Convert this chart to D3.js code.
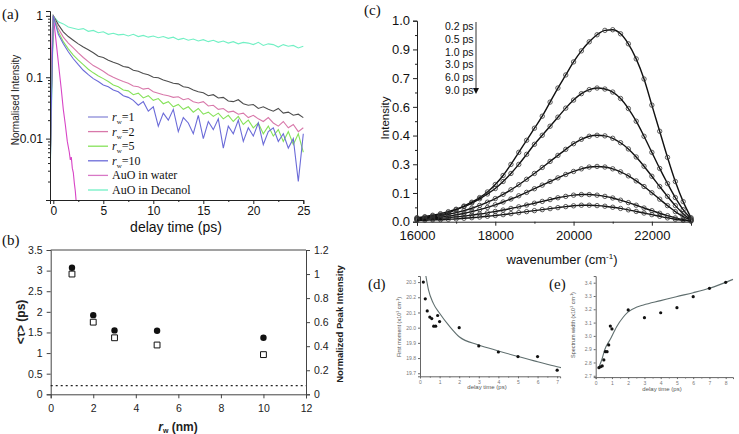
<!DOCTYPE html>
<html><head><meta charset="utf-8">
<script src="https://cdn.jsdelivr.net/npm/d3@7"></script>
<style>body{margin:0;background:#fff}svg{display:block}</style>
</head><body><svg id="c" width="739" height="434"></svg>
<script>
// ================= DATA =================
// ---- panel (a): normalised intensity decays ----
const delayTimesA = [-0.4,-0.2,0,0.5,1,1.5,2,2.5,3,3.5,4,4.5,5,5.5,6,6.5,7,7.5,8,8.5,9,9.5,10,10.5,11,11.5,12,12.5,13,13.5,14,14.5,15,15.5,16,16.5,17,17.5,18,18.5,19,19.5,20,20.5,21,21.5,22,22.5,23,23.5,24,24.5,25];
const decayRw1 = [0.0005,0.05,1.0,0.72,0.55,0.46,0.40,0.35,0.31,0.28,0.25,0.22,0.21,0.19,0.175,0.165,0.15,0.145,0.13,0.125,0.115,0.11,0.10,0.098,0.09,0.085,0.08,0.078,0.07,0.068,0.062,0.058,0.056,0.05,0.052,0.046,0.047,0.041,0.04,0.043,0.037,0.035,0.036,0.031,0.033,0.03,0.028,0.031,0.026,0.027,0.024,0.025,0.022];
const decayRw2 = [0.0005,0.05,1.0,0.62,0.45,0.36,0.30,0.25,0.21,0.18,0.155,0.14,0.125,0.11,0.10,0.092,0.085,0.08,0.072,0.07,0.064,0.066,0.058,0.055,0.052,0.05,0.047,0.048,0.043,0.045,0.04,0.038,0.04,0.034,0.035,0.03,0.031,0.027,0.028,0.025,0.026,0.022,0.024,0.021,0.019,0.022,0.018,0.016,0.019,0.015,0.017,0.013,0.015];
const decayRw5 = [0.0005,0.04,1.0,0.55,0.38,0.29,0.23,0.19,0.16,0.135,0.118,0.105,0.095,0.085,0.075,0.07,0.062,0.06,0.052,0.055,0.046,0.05,0.042,0.045,0.037,0.04,0.033,0.036,0.03,0.033,0.027,0.031,0.025,0.027,0.023,0.026,0.021,0.024,0.019,0.023,0.017,0.02,0.015,0.018,0.012,0.016,0.011,0.014,0.009,0.013,0.008,0.012,0.006];
const decayRw10 = [0.0005,0.03,1.0,0.5,0.35,0.26,0.2,0.16,0.13,0.11,0.095,0.085,0.075,0.07,0.062,0.058,0.05,0.047,0.042,0.035,0.04,0.028,0.033,0.016,0.026,0.02,0.03,0.013,0.022,0.018,0.012,0.024,0.01,0.019,0.014,0.021,0.007,0.016,0.012,0.02,0.009,0.015,0.011,0.018,0.008,0.013,0.015,0.009,0.012,0.007,0.01,0.002,0.012];
const decayDecanol = [0.0005,0.02,1.0,0.8,0.74,0.66,0.63,0.6,0.62,0.56,0.58,0.53,0.55,0.5,0.52,0.49,0.5,0.47,0.5,0.46,0.48,0.45,0.47,0.44,0.46,0.43,0.45,0.41,0.43,0.4,0.42,0.39,0.41,0.38,0.4,0.37,0.39,0.36,0.38,0.35,0.37,0.36,0.34,0.37,0.33,0.35,0.34,0.31,0.34,0.32,0.33,0.3,0.32];
const waterTimes = [-0.4,-0.3,-0.2,-0.1,0,0.2,0.4,0.6,0.8,1.0,1.2,1.4,1.6,1.7,1.8,1.9,2.0,2.1,2.2,2.3,2.4];
const decayWater = [0.0005,0.003,0.1,0.6,1.0,0.5,0.25,0.125,0.063,0.03,0.017,0.009,0.006,0.0045,0.005,0.0033,0.0028,0.0019,0.0014,0.0009,0.0005];
const yTicksA = [1,0.1,0.01];
const yTickLabelsA = ["1","0.1","0.01"];
const yMinorA = [0.002,0.003,0.004,0.005,0.006,0.007,0.008,0.009,0.02,0.03,0.04,0.05,0.06,0.07,0.08,0.09,0.2,0.3,0.4,0.5,0.6,0.7,0.8,0.9];
const xTicksA = [0,5,10,15,20,25];
const xMinorA = [2.5,7.5,12.5,17.5,22.5];

// ---- panel (b) ----
const rwValues = [1,2,3,5,10];
const tauValues = [3.07,1.92,1.55,1.54,1.37];
const peakIntensity = [1.0,0.60,0.47,0.41,0.33];
const waterTau = 0.21;
const yTicksBL = [0,0.5,1,1.5,2,2.5,3,3.5];
const yTicksBR = [0,0.2,0.4,0.6,0.8,1,1.2];
const xTicksB = [0,2,4,6,8,10,12];

// ---- panel (c): transient spectra ----
const wavenumbers = [16000,16200,16400,16600,16800,17000,17200,17400,17600,17800,18000,18200,18400,18600,18800,19000,19200,19400,19600,19800,20000,20200,20400,20600,20800,21000,21200,21400,21600,21800,22000,22200,22400,22600,22800,23000];
const spec02 = [0.020,0.025,0.032,0.040,0.050,0.062,0.078,0.097,0.120,0.148,0.185,0.230,0.285,0.345,0.405,0.465,0.525,0.595,0.665,0.730,0.795,0.850,0.895,0.930,0.952,0.955,0.935,0.885,0.810,0.710,0.580,0.450,0.320,0.200,0.100,0.020];
const spec05 = [0.018,0.022,0.028,0.035,0.044,0.060,0.075,0.093,0.114,0.138,0.165,0.200,0.240,0.285,0.335,0.385,0.430,0.475,0.520,0.565,0.605,0.637,0.657,0.665,0.660,0.645,0.613,0.563,0.500,0.425,0.345,0.265,0.190,0.120,0.060,0.015];
const spec10 = [0.015,0.019,0.024,0.030,0.037,0.045,0.055,0.067,0.081,0.097,0.115,0.136,0.159,0.184,0.211,0.240,0.270,0.300,0.330,0.360,0.388,0.410,0.425,0.430,0.427,0.415,0.393,0.362,0.322,0.276,0.226,0.175,0.126,0.080,0.040,0.010];
const spec30 = [0.012,0.015,0.019,0.023,0.028,0.034,0.041,0.050,0.060,0.071,0.084,0.098,0.113,0.129,0.146,0.164,0.182,0.200,0.218,0.235,0.250,0.263,0.272,0.275,0.272,0.263,0.248,0.228,0.203,0.175,0.144,0.112,0.080,0.050,0.025,0.008];
const spec60 = [0.010,0.012,0.014,0.017,0.020,0.024,0.028,0.033,0.038,0.044,0.051,0.058,0.066,0.074,0.083,0.092,0.101,0.110,0.119,0.126,0.132,0.135,0.135,0.132,0.126,0.118,0.107,0.095,0.082,0.068,0.055,0.042,0.030,0.019,0.010,0.004];
const spec90 = [0.006,0.007,0.009,0.010,0.012,0.014,0.017,0.020,0.023,0.027,0.031,0.035,0.040,0.045,0.050,0.055,0.060,0.065,0.070,0.075,0.079,0.082,0.082,0.080,0.077,0.072,0.066,0.059,0.051,0.043,0.035,0.027,0.019,0.012,0.007,0.003];
const delayLabelsC = ["0.2 ps","0.5 ps","1.0 ps","3.0 ps","6.0 ps","9.0 ps"];
const yTicksC = [0,0.1429,0.2857,0.4286,0.5714,0.7143,0.8571,1];
const yTickLabelsC = ["0.0","0.1","0.3","0.4","0.6","0.7","0.9","1.0"];
const yMinorC = [0.0714,0.2143,0.3571,0.5,0.6429,0.7857,0.9286];
const xTicksC = [16000,18000,20000,22000];
const xMinorC = [17000,19000,21000,23000];

// ---- panel (d): first moment ----
const momentTimes = [0.17,0.27,0.37,0.5,0.6,0.7,0.8,0.9,1.0,2,3,4,5,6,7];
const momentValues = [20.30,20.19,20.11,20.07,20.06,20.01,20.01,20.08,20.04,20.0,19.88,19.84,19.81,19.81,19.72];
const momentFitTimes = [0.3,0.43,0.68,1.0,1.5,2,3,4,5,6,7,7.2];
const momentFitValues = [20.34,20.25,20.16,20.095,20.01,19.94,19.886,19.847,19.81,19.776,19.743,19.737];
const yTicksD = [19.7,19.8,19.9,20.0,20.1,20.2,20.3];
const xTicksD = [0,1,2,3,4,5,6,7];

// ---- panel (e): spectrum width ----
const widthTimes = [0.2,0.3,0.4,0.5,0.6,0.7,0.8,0.9,1.0,2,3,4,5,6,7,8];
const widthValues = [2.761,2.768,2.774,2.819,2.881,2.881,2.932,3.074,3.052,3.195,3.137,3.174,3.212,3.295,3.358,3.403];
const widthFitTimes = [0.2,0.4,0.55,0.88,1.29,1.69,2.0,2.5,2.94,4.0,4.96,6,7,8.45];
const widthFitValues = [2.765,2.83,2.894,2.97,3.069,3.14,3.18,3.215,3.232,3.265,3.295,3.325,3.358,3.425];
const yTicksE = [2.7,2.8,2.9,3.0,3.1,3.2,3.3,3.4];
const xTicksE = [0,1,2,3,4,5,6,7,8];

// ================= DRAW =================
const svg = d3.select("#c");
svg.append("rect").attr("width",739).attr("height",434).attr("fill","#fff");
const defs = svg.append("defs");
const SANS = "Arial, 'Liberation Sans', sans-serif";
const SERIF = "'Times New Roman', 'Liberation Serif', serif";

function styleAxis(g, color, size, fill, weight){
  g.attr("font-family", SANS).attr("font-size", size);
  g.select(".domain").attr("stroke", color);
  g.selectAll(".tick line").attr("stroke", color);
  g.selectAll(".tick text").attr("fill", fill).attr("font-weight", weight||"normal");
}
function minor(g, axisGen, vals, size, color){
  g.call(axisGen.tickValues(vals).tickSize(size).tickFormat(""));
  g.select(".domain").remove();
  g.selectAll(".tick line").attr("stroke", color);
}
function panelLabel(txt, x, y){
  svg.append("text").attr("x",x).attr("y",y).attr("font-family",SERIF).attr("font-size",15).attr("fill","#111").text(txt);
}

// ---------- (a) ----------
const xA = d3.scaleLinear().domain([-0.33,25]).range([50,303.3]);
const yA = d3.scaleLog().domain([0.001,1.2]).range([200,11]);
defs.append("clipPath").attr("id","clipA").append("rect").attr("x",50).attr("y",5).attr("width",254).attr("height",195);
const aSeries = [
  {times: delayTimesA, values: decayDecanol, color:"#72f0c4"},
  {times: delayTimesA, values: decayRw1, color:"#4d4d4d"},
  {times: waterTimes, values: decayWater, color:"#d845c6"},
  {times: delayTimesA, values: decayRw2, color:"#d878aa"},
  {times: delayTimesA, values: decayRw5, color:"#86e25a"},
  {times: delayTimesA, values: decayRw10, color:"#6b6bd8"}
];
const lineA = d3.line().x(d=>xA(d[0])).y(d=>yA(d[1]));
const gLinesA = svg.append("g").attr("clip-path","url(#clipA)");
aSeries.forEach(s=>{
  gLinesA.append("path").datum(s.times.map((t,i)=>[t,s.values[i]]))
    .attr("d",lineA).attr("fill","none").attr("stroke",s.color).attr("stroke-width",1.1);
});
let g = svg.append("g").attr("transform","translate(50,0)")
  .call(d3.axisLeft(yA).tickValues(yTicksA).tickFormat((d,i)=>yTickLabelsA[i]).tickSize(4).tickPadding(3));
styleAxis(g,"#222",12,"#111");
minor(svg.append("g").attr("transform","translate(50,0)"), d3.axisLeft(yA), yMinorA, 2, "#222");
g = svg.append("g").attr("transform","translate(0,200)")
  .call(d3.axisBottom(xA).tickValues(xTicksA).tickSize(4).tickPadding(2));
styleAxis(g,"#222",12,"#111");
minor(svg.append("g").attr("transform","translate(0,200)"), d3.axisBottom(xA), xMinorA, 2, "#222");
svg.append("text").attr("x",176).attr("y",232).attr("text-anchor","middle").attr("font-family",SANS).attr("font-size",14).attr("fill","#111").text("delay time (ps)");
svg.append("text").attr("transform","translate(19,100) rotate(-90)").attr("text-anchor","middle").attr("font-family",SANS).attr("font-size",10).attr("fill","#222").text("Normalised Intensity");
panelLabel("(a)",2,19);
// legend
const legendA = [
  {rw:"1", color:"#8c8cd8"},{rw:"2", color:"#d878aa"},{rw:"5", color:"#86e25a"},{rw:"10", color:"#6b6bd8"},
  {text:"AuO in water", color:"#d878c6"},{text:"AuO in Decanol", color:"#72f0c4"}
];
legendA.forEach((L,i)=>{
  const y = 117 + i*14.6;
  svg.append("line").attr("x1",88).attr("x2",108).attr("y1",y).attr("y2",y).attr("stroke",L.color).attr("stroke-width",1.3);
  const t = svg.append("text").attr("x",112).attr("y",y+4).attr("font-family",SERIF).attr("font-size",12).attr("fill","#111");
  if(L.rw){
    t.append("tspan").attr("font-style","italic").text("r");
    t.append("tspan").attr("font-size",7).attr("dy",3).text("w");
    t.append("tspan").attr("dy",-3).text("=" + L.rw);
  } else t.text(L.text);
});

// ---------- (b) ----------
const xB = d3.scaleLinear().domain([0,12]).range([50.7,306]);
const yBL = d3.scaleLinear().domain([0,3.5]).range([394.3,250]);
const yBR = d3.scaleLinear().domain([0,1.2]).range([394.3,250]);
svg.append("line").attr("x1",50.7).attr("x2",306).attr("y1",250).attr("y2",250).attr("stroke","#444");
g = svg.append("g").attr("transform","translate(50.7,0)").call(d3.axisLeft(yBL).tickValues(yTicksBL).tickSize(4).tickPadding(4).tickFormat(d3.format("")));
styleAxis(g,"#444",10.5,"#222");
g = svg.append("g").attr("transform","translate(306,0)").call(d3.axisRight(yBR).tickValues(yTicksBR).tickSize(4).tickPadding(4).tickFormat(d3.format("")));
styleAxis(g,"#444",10.5,"#222");
g = svg.append("g").attr("transform","translate(0,394.3)").call(d3.axisBottom(xB).tickValues(xTicksB).tickSize(4).tickPadding(6));
styleAxis(g,"#444",10.5,"#222");
svg.append("line").attr("x1",50.7).attr("x2",306).attr("y1",yBL(waterTau)).attr("y2",yBL(waterTau))
  .attr("stroke","#222").attr("stroke-width",1.2).attr("stroke-dasharray","2,3");
svg.append("g").selectAll("path").data(rwValues).join("path")
  .attr("transform",(d,i)=>`translate(${xB(d)},${yBR(peakIntensity[i])})`)
  .attr("d",d3.symbol(d3.symbolSquare,34)).attr("fill","#fff").attr("stroke","#111").attr("stroke-width",1);
svg.append("g").selectAll("circle").data(rwValues).join("circle")
  .attr("cx",d=>xB(d)).attr("cy",(d,i)=>yBL(tauValues[i])).attr("r",3.2).attr("fill","#111");
svg.append("text").attr("transform","translate(25,322) rotate(-90)").attr("text-anchor","middle").attr("font-family",SANS).attr("font-size",12).attr("font-weight","bold").attr("fill","#222").text("<\u03C4> (ps)");
svg.append("text").attr("transform","translate(343,324) rotate(-90)").attr("text-anchor","middle").attr("font-family",SANS).attr("font-size",9.5).attr("font-weight","bold").attr("fill","#222").text("Normalized Peak Intensity");
{
  const t = svg.append("text").attr("x",178).attr("y",431).attr("text-anchor","middle").attr("font-family",SANS).attr("font-size",12).attr("font-weight","bold").attr("fill","#222");
  t.append("tspan").attr("font-style","italic").text("r");
  t.append("tspan").attr("font-size",7).attr("dy",2).text("w");
  t.append("tspan").attr("dy",-2).text("  (nm)");
}
panelLabel("(b)",2,245);

// ---------- (c) ----------
const xC = d3.scaleLinear().domain([16000,23000]).range([417,691]);
const yC = d3.scaleLinear().domain([0,1]).range([221.7,20.7]);
g = svg.append("g").attr("transform","translate(417,0)").call(d3.axisLeft(yC).tickValues(yTicksC).tickFormat((d,i)=>yTickLabelsC[i]).tickSize(4).tickPadding(3));
styleAxis(g,"#222",13,"#111");
minor(svg.append("g").attr("transform","translate(417,0)"), d3.axisLeft(yC), yMinorC, 2, "#222");
g = svg.append("g").attr("transform","translate(0,221.7)").call(d3.axisBottom(xC).tickValues(xTicksC).tickFormat(d3.format("d")).tickSize(4).tickPadding(5));
styleAxis(g,"#222",13,"#111");
minor(svg.append("g").attr("transform","translate(0,221.7)"), d3.axisBottom(xC), xMinorC, 2, "#222");
const spectra = [spec02,spec05,spec10,spec30,spec60,spec90];
const lineC = d3.line().x(d=>xC(d[0])).y(d=>yC(d[1])).curve(d3.curveMonotoneX);
spectra.forEach(sp=>{
  const pts = wavenumbers.map((w,i)=>[w,sp[i]]);
  svg.append("path").datum(pts).attr("d",lineC).attr("fill","none").attr("stroke","#111").attr("stroke-width",1.4);
  svg.append("g").selectAll("circle").data(pts).join("circle")
    .attr("cx",d=>xC(d[0])).attr("cy",d=>yC(d[1])).attr("r",2.2)
    .attr("fill","none").attr("stroke","#333").attr("stroke-width",0.8);
});
delayLabelsC.forEach((lab,i)=>{
  svg.append("text").attr("x",445).attr("y",30+i*12.8).attr("font-family",SANS).attr("font-size",10.5).attr("fill","#111").text(lab);
});
svg.append("line").attr("x1",476).attr("x2",476).attr("y1",22).attr("y2",89).attr("stroke","#333").attr("stroke-width",1);
svg.append("path").attr("d","M473,88 L479,88 L476,94 Z").attr("fill","#111");
svg.append("text").attr("transform","translate(389,118) rotate(-90)").attr("text-anchor","middle").attr("font-family",SANS).attr("font-size",11.5).attr("fill","#111").text("Intensity");
{
  const t = svg.append("text").attr("x",562).attr("y",264).attr("text-anchor","middle").attr("font-family",SANS).attr("font-size",13).attr("fill","#111");
  t.append("tspan").text("wavenumber (cm");
  t.append("tspan").attr("font-size",8).attr("dy",-5).text("-1");
  t.append("tspan").attr("dy",5).text(")");
}
panelLabel("(c)",364,15);

// ---------- (d) ----------
const xD = d3.scaleLinear().domain([0,7.15]).range([420,560.1]);
const yD = d3.scaleLinear().domain([19.68,20.34]).range([376.3,276.0]);
defs.append("clipPath").attr("id","clipD").append("rect").attr("x",420).attr("y",276).attr("width",141).attr("height",101);
g = svg.append("g").attr("transform","translate(420,0)").call(d3.axisLeft(yD).tickValues(yTicksD).tickFormat(d3.format(".1f")).tickSize(2).tickPadding(2));
styleAxis(g,"#666",5,"#777");
g = svg.append("g").attr("transform","translate(0,376.3)").call(d3.axisBottom(xD).tickValues(xTicksD).tickSize(2).tickPadding(2));
styleAxis(g,"#666",5,"#777");
minor(svg.append("g").attr("transform","translate(0,376.3)"), d3.axisBottom(xD), [0.5,1.5,2.5,3.5,4.5,5.5,6.5], 1.5, "#777");
svg.append("path").datum(momentFitTimes.map((t,i)=>[t,momentFitValues[i]])).attr("clip-path","url(#clipD)")
  .attr("d",d3.line().x(d=>xD(d[0])).y(d=>yD(d[1])).curve(d3.curveMonotoneX))
  .attr("fill","none").attr("stroke","#5f6e6e").attr("stroke-width",1.1);
svg.append("g").selectAll("circle").data(momentTimes).join("circle")
  .attr("cx",d=>xD(d)).attr("cy",(d,i)=>yD(momentValues[i])).attr("r",1.6).attr("fill","#111");
svg.append("text").attr("x",487).attr("y",389).attr("text-anchor","middle").attr("font-family",SANS).attr("font-size",6).attr("fill","#555").text("delay time (ps)");
{
  const t = svg.append("text").attr("transform","translate(401,327) rotate(-90)").attr("text-anchor","middle").attr("font-family",SANS).attr("font-size",5.5).attr("fill","#555");
  t.append("tspan").text("First moment (x10");
  t.append("tspan").attr("font-size",3.5).attr("dy",-2).text("3");
  t.append("tspan").attr("dy",2).text(" cm");
  t.append("tspan").attr("font-size",3.5).attr("dy",-2).text("-1");
  t.append("tspan").attr("dy",2).text(")");
}
panelLabel("(d)",368,289);

// ---------- (e) ----------
const xE = d3.scaleLinear().domain([0,8.45]).range([595.7,733]);
const yE = d3.scaleLinear().domain([2.69,3.45]).range([377.1,276.05]);
g = svg.append("g").attr("transform","translate(595.7,0)").call(d3.axisLeft(yE).tickValues(yTicksE).tickFormat(d3.format(".1f")).tickSize(2).tickPadding(2));
styleAxis(g,"#666",5,"#777");
g = svg.append("g").attr("transform","translate(0,377.1)").call(d3.axisBottom(xE).tickValues(xTicksE).tickSize(2).tickPadding(2));
styleAxis(g,"#666",5,"#777");
minor(svg.append("g").attr("transform","translate(0,377.1)"), d3.axisBottom(xE), [0.5,1.5,2.5,3.5,4.5,5.5,6.5,7.5], 1.5, "#777");
svg.append("path").datum(widthFitTimes.map((t,i)=>[t,widthFitValues[i]]))
  .attr("d",d3.line().x(d=>xE(d[0])).y(d=>yE(d[1])).curve(d3.curveMonotoneX))
  .attr("fill","none").attr("stroke","#5f6e6e").attr("stroke-width",1.1);
svg.append("g").selectAll("circle").data(widthTimes).join("circle")
  .attr("cx",d=>xE(d)).attr("cy",(d,i)=>yE(widthValues[i])).attr("r",1.6).attr("fill","#111");
svg.append("text").attr("x",662).attr("y",391).attr("text-anchor","middle").attr("font-family",SANS).attr("font-size",6).attr("fill","#555").text("delay time (ps)");
{
  const t = svg.append("text").attr("transform","translate(575,325) rotate(-90)").attr("text-anchor","middle").attr("font-family",SANS).attr("font-size",5.5).attr("fill","#555");
  t.append("tspan").text("Spectrum width (x10");
  t.append("tspan").attr("font-size",3.5).attr("dy",-2).text("3");
  t.append("tspan").attr("dy",2).text(" cm");
  t.append("tspan").attr("font-size",3.5).attr("dy",-2).text("-1");
  t.append("tspan").attr("dy",2).text(")");
}
panelLabel("(e)",549,289);
</script>
</body></html>
